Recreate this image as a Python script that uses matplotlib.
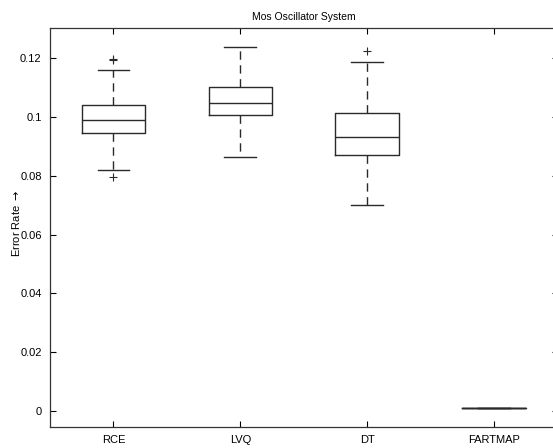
import matplotlib
matplotlib.use("Agg")
import matplotlib.pyplot as plt

plt.rcParams['font.family'] = ['Liberation Sans', 'DejaVu Sans']

categories = ["RCE", "LVQ", "DT", "FARTMAP"]
medians = [0.0988, 0.1046, 0.0930, 0.0009]
q1 = [0.0944, 0.1005, 0.0869, 0.0009]
q3 = [0.1042, 0.1102, 0.1014, 0.0009]
whisker_low = [0.0820, 0.0863, 0.0701, 0.0009]
whisker_high = [0.1158, 0.1238, 0.1186, 0.0009]
outliers = [[0.1198, 0.1193, 0.0796], [], [0.1225], []]
yticks = [0, 0.02, 0.04, 0.06, 0.08, 0.1, 0.12]
ytick_labels = ["0", "0.02", "0.04", "0.06", "0.08", "0.1", "0.12"]

stats = []
for i, name in enumerate(categories):
    stats.append(dict(label=name, med=medians[i], q1=q1[i], q3=q3[i],
                      whislo=whisker_low[i], whishi=whisker_high[i],
                      fliers=outliers[i]))

W, H = 553, 448
fig = plt.figure(figsize=(W / 100, H / 100), dpi=100)
left, right, top, bottom = 50, 557.5, 28, 427
ax = fig.add_axes([left / W, (H - bottom) / H, (right - left) / W, (bottom - top) / H])

lc = '#2a2a2a'
ax.bxp(stats, positions=[1, 2, 3, 4], widths=0.5, showfliers=True,
       boxprops=dict(color=lc, linewidth=1.0),
       medianprops=dict(color=lc, linewidth=1.0),
       whiskerprops=dict(color=lc, linewidth=1.0, linestyle=(0, (6, 4))),
       capprops=dict(color=lc, linewidth=1.0),
       flierprops=dict(marker='+', markersize=6, markeredgecolor=lc,
                       markeredgewidth=0.8, linestyle='none'),
       capwidths=0.25)

ax.set_xlim(0.5, 4.5)
ax.set_ylim(-0.0054, 0.1302)
ax.set_xticks([1, 2, 3, 4])
ax.set_xticklabels(categories, fontsize=8)
ax.set_yticks(yticks)
ax.set_yticklabels(ytick_labels, fontsize=8)
ax.tick_params(direction='in', length=4, width=0.8, top=True, right=True,
               colors='black', pad=6)
for s in ax.spines.values():
    s.set_linewidth(0.9)
    s.set_color('#333333')
ax.set_title("Mos Oscillator System", fontsize=7.5, pad=6)
ax.set_ylabel("Error Rate $\\rightarrow$", fontsize=8)
ax.yaxis.set_label_coords(-0.055, 0.51)

fig.savefig("out.png", dpi=100)
